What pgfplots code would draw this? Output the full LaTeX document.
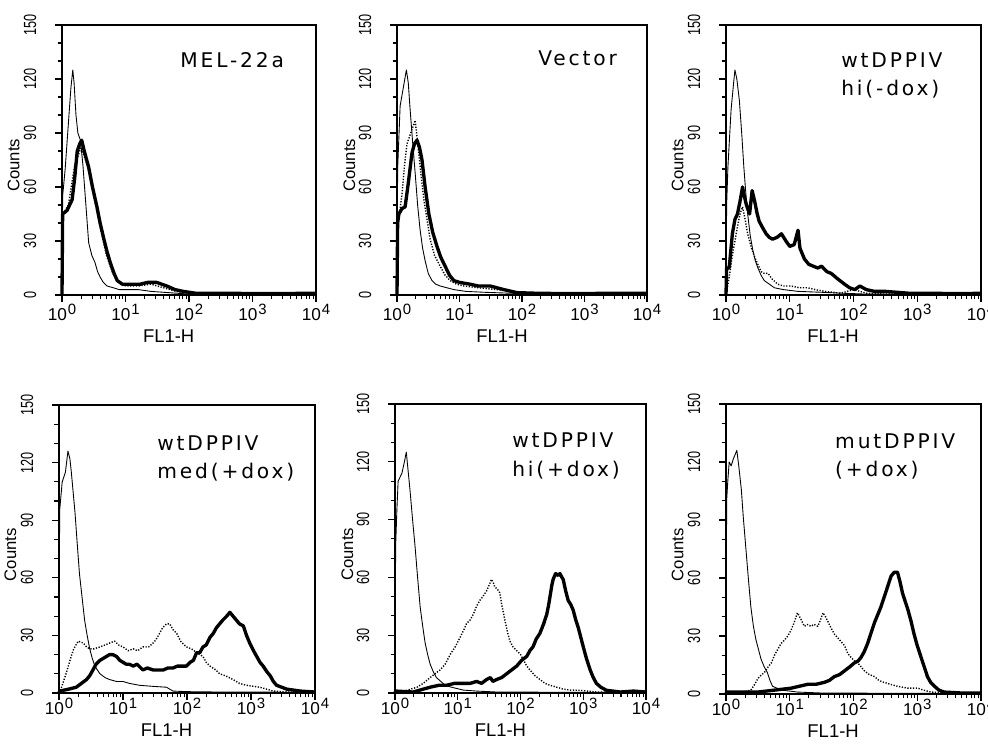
\documentclass[border=0pt]{standalone}
\usepackage{fontspec}
\setmainfont{Liberation Sans}
\newfontfamily\tagfont[LetterSpace=14]{DejaVu Sans}
\usepackage{pgfplots}
\pgfplotsset{compat=1.18}

\newcommand\dec[1]{10\raisebox{0.7ex}{\kern0.5pt\fontsize{8.5}{9}\selectfont#1}}

\pgfplotsset{
  facs/.style={
    scale only axis,
    xmin=0, xmax=4, ymin=0, ymax=150,
    xtick={0,1,2,3,4},
    xticklabels={\dec{0},\dec{1},\dec{2},\dec{3},\dec{4}},
    minor xtick={0.301,0.477,0.602,0.699,0.778,0.845,0.903,0.954,
                 1.301,1.477,1.602,1.699,1.778,1.845,1.903,1.954,
                 2.301,2.477,2.602,2.699,2.778,2.845,2.903,2.954,
                 3.301,3.477,3.602,3.699,3.778,3.845,3.903,3.954},
    ytick={0,30,60,90,120,150},
    minor ytick={10,20,40,50,70,80,100,110,130,140},
    tick align=outside,
    xtick pos=left, ytick pos=left,
    major tick length=1.4mm, minor tick length=0.9mm,
    every tick/.style={black, line width=0.6pt},
    axis line style={line width=0.6pt},
    xticklabel style={font=\fontsize{9.8}{11}\selectfont, inner sep=1pt},
    /pgf/number format/assume math mode=true,
    yticklabel style={font=\fontsize{10}{12}\selectfont, rotate=90, anchor=south,
                      xscale=0.72, yshift=2.5mm},
    xlabel={FL1-H}, ylabel={Counts},
    xlabel style={at={(axis description cs:0.42,0)}, anchor=center, yshift=-8.2mm,
                  font=\fontsize{10.5}{12}\selectfont},
    ylabel style={at={(axis description cs:-0.19,0.48)}, anchor=center,
                  font=\fontsize{9.5}{12}\selectfont},
    clip=false,
  },
  lowrow/.style={xlabel style={yshift=0.7mm}, xticklabel style={yshift=0.8mm}},
  ctl/.style={black, line width=0.5pt, line join=round},
  mid/.style={black, line width=0.8pt, dash pattern=on 0.7pt off 0.9pt, line join=round},
  pos/.style={black, line width=1.9pt, line join=round},
}
\tikzset{
  tag/.style={anchor=north west, align=left, inner sep=0pt,
              font=\tagfont\fontsize{11.5}{16}\selectfont},
  frame/.style={black, line width=1.6pt},
}

\begin{document}
\begin{tikzpicture}[x=1cm,y=1cm]
\useasboundingbox (0,0) rectangle (19.76,14.9);

% ---- top row ----
\begin{axis}[facs, at={(1.24cm,9.0cm)}, anchor=south west, width=5.08cm, height=5.4cm]
\addplot[mid] coordinates {(0,0) (0.02,45) (0.1,50) (0.2,72) (0.3,82) (0.4,72) (0.5,55)
  (0.6,38) (0.7,22) (0.8,12) (0.9,7) (1.0,5) (1.2,5) (1.4,6) (1.6,4) (1.8,2) (2,1) (2.5,0.5) (4,0)};
\addplot[ctl] coordinates {(0,0) (0.01,55) (0.05,70) (0.1,95) (0.14,115) (0.17,125) (0.19,118)
  (0.22,100) (0.25,90) (0.29,86) (0.33,72) (0.37,53) (0.42,29) (0.47,22) (0.52,18) (0.56,13)
  (0.6,10) (0.65,7) (0.71,5) (0.81,4) (0.9,3) (1.0,3) (1.2,3) (1.4,2) (1.6,1.5) (1.8,1)
  (2.0,0.5) (2.5,0.3) (3,0.3) (4,0.2)};
\addplot[pos] coordinates {(0,0) (0.01,45) (0.08,47) (0.16,53) (0.2,65) (0.24,80) (0.28,84)
  (0.31,86) (0.35,80) (0.42,71) (0.48,60) (0.55,49) (0.6,40) (0.66,31) (0.71,24) (0.76,18)
  (0.82,12) (0.87,8) (0.95,6) (1.02,6) (1.1,6) (1.23,6) (1.35,7) (1.49,7) (1.57,6) (1.65,5)
  (1.78,3) (1.91,2) (2.1,1) (2.5,1) (3,0.8) (3.5,0.8) (4,1)};
\draw[frame] (rel axis cs:0,0) -- (rel axis cs:0,1);
\node[tag] at (rel axis cs:0.465,0.9) {MEL-22a};
\end{axis}

\begin{axis}[facs, at={(7.94cm,9.0cm)}, anchor=south west, width=5.0cm, height=5.4cm]
\addplot[mid] coordinates {(0,0) (0.02,40) (0.08,56) (0.12,72) (0.16,84) (0.22,90) (0.29,97)
  (0.33,85) (0.38,68) (0.43,53) (0.48,42) (0.53,31) (0.6,22) (0.69,16) (0.77,11) (0.85,8)
  (0.95,6) (1.07,5) (1.3,4) (1.6,3) (1.8,2) (2.0,1) (2.5,0.5) (4,0.3)};
\addplot[ctl] coordinates {(0,0) (0.01,70) (0.05,105) (0.1,115) (0.15,125) (0.18,118) (0.21,103)
  (0.25,85) (0.29,68) (0.33,50) (0.37,36) (0.41,26) (0.45,19) (0.5,12) (0.56,8) (0.62,6)
  (0.69,5) (0.8,4) (0.91,3) (1.1,2) (1.4,1.5) (1.8,1) (2.2,0.5) (4,0.3)};
\addplot[pos] coordinates {(0,0) (0.01,40) (0.03,45) (0.08,48) (0.13,49) (0.18,62) (0.24,79)
  (0.28,84) (0.32,86) (0.36,82) (0.4,75) (0.45,60) (0.51,45) (0.57,35) (0.64,27) (0.7,21)
  (0.77,16) (0.84,11) (0.91,8) (1.0,7) (1.17,6) (1.3,5) (1.49,5) (1.6,4) (1.71,3) (1.92,1.3)
  (2.2,1) (2.6,0.8) (3,0.8) (3.5,1) (4,1)};
\draw[frame] (rel axis cs:0,0) -- (rel axis cs:0,1);
\node[tag] at (rel axis cs:0.564,0.907) {Vector};
\end{axis}

\begin{axis}[facs, at={(14.52cm,9.0cm)}, anchor=south west, width=5.1cm, height=5.4cm]
\addplot[mid] coordinates {(0,0) (0.05,10) (0.1,22) (0.15,32) (0.18,38) (0.22,45) (0.26,49)
  (0.3,42) (0.34,34) (0.4,26) (0.45,21) (0.5,17) (0.55,13) (0.6,12) (0.66,12) (0.72,9)
  (0.81,6) (0.9,5) (1.02,5) (1.15,4) (1.28,4) (1.4,3) (1.55,2) (1.8,1) (2.0,3) (2.2,1)
  (2.5,0.5) (4,0.3)};
\addplot[ctl] coordinates {(0,0) (0.01,50) (0.03,71) (0.08,103) (0.12,118) (0.14,125) (0.17,120)
  (0.21,108) (0.25,88) (0.28,71) (0.31,57) (0.34,45) (0.38,33) (0.42,25) (0.46,19) (0.5,15)
  (0.55,11) (0.6,8) (0.68,6) (0.76,4) (0.9,3) (1.13,2) (1.5,1.5) (1.81,1) (2.2,0.5) (4,0.3)};
\addplot[pos] coordinates {(0,0) (0.01,15) (0.05,15) (0.1,34) (0.14,42) (0.18,45) (0.22,52)
  (0.26,60) (0.28,56) (0.32,50) (0.37,45) (0.41,58) (0.45,52) (0.49,45) (0.52,41) (0.58,37)
  (0.63,34) (0.68,32) (0.73,31) (0.8,32) (0.87,34) (0.94,30) (1.0,27) (1.07,28) (1.13,36)
  (1.16,26) (1.23,20) (1.3,17) (1.44,15) (1.5,16) (1.58,13) (1.65,12) (1.75,9) (1.86,6)
  (1.94,4) (2.02,3) (2.1,5) (2.2,3) (2.33,2) (2.5,2) (2.86,1) (3.2,1) (3.5,0.8) (3.8,0.8) (4,1)};
\draw[frame] (rel axis cs:0,0) -- (rel axis cs:0,1);
\node[tag] at (rel axis cs:0.451,0.9) {wtDPPIV\\hi(-dox)};
\end{axis}

% ---- bottom row ----
\begin{axis}[facs, lowrow, at={(1.18cm,1.04cm)}, anchor=south west, width=5.12cm, height=5.76cm]
\addplot[mid] coordinates {(0,0) (0.04,3) (0.11,10) (0.19,19) (0.23,23) (0.3,27) (0.38,26)
  (0.43,24) (0.48,23) (0.55,23) (0.64,24) (0.72,25) (0.79,26) (0.87,27) (0.93,25) (1.0,24)
  (1.08,22) (1.16,23) (1.23,22) (1.31,24) (1.4,24) (1.47,26) (1.52,28) (1.57,31) (1.62,34)
  (1.68,36) (1.73,36) (1.78,33) (1.84,31) (1.9,27) (1.99,24) (2.07,23) (2.15,21) (2.25,19)
  (2.3,16) (2.36,14) (2.45,12) (2.51,10) (2.6,9) (2.72,7) (2.82,5) (2.93,4) (3.14,3)
  (3.35,1) (3.6,0.5) (4,0.3)};
\addplot[ctl] coordinates {(0,0) (0.01,95) (0.05,110) (0.1,115) (0.14,126) (0.17,122) (0.19,116)
  (0.22,105) (0.25,94) (0.28,80) (0.32,62) (0.36,50) (0.4,38) (0.44,30) (0.48,23) (0.52,18)
  (0.56,14) (0.6,12) (0.64,10) (0.72,8) (0.79,7) (0.9,6) (1.0,6) (1.1,5) (1.26,4) (1.45,3.5)
  (1.68,3) (1.78,1) (2.0,0.7) (2.5,0.5) (3,0.5) (4,0.3)};
\addplot[pos] coordinates {(0,0) (0.01,1) (0.15,2) (0.27,3) (0.35,5) (0.43,7) (0.48,9) (0.53,12)
  (0.58,15) (0.64,17) (0.69,18) (0.74,19) (0.79,20) (0.84,20) (0.9,19) (0.95,17) (1.0,16)
  (1.05,15) (1.1,15) (1.16,14) (1.22,15) (1.31,12) (1.38,13) (1.47,12) (1.55,12) (1.63,12)
  (1.7,13) (1.78,13) (1.85,14) (1.92,14) (1.99,14) (2.05,16) (2.1,17) (2.15,21) (2.2,21)
  (2.25,24) (2.3,25) (2.36,29) (2.41,31) (2.46,34) (2.51,36) (2.56,38) (2.62,40) (2.67,42)
  (2.72,40) (2.77,38) (2.82,36) (2.88,35) (2.93,30) (2.98,26) (3.04,22) (3.09,19) (3.14,16)
  (3.19,14) (3.25,11) (3.3,9) (3.35,6) (3.4,4) (3.48,3) (3.56,2) (3.77,1) (4,0.5)};
\draw[frame] (rel axis cs:0,0) -- (rel axis cs:0,1);
\node[tag] at (rel axis cs:0.383,0.896) {wtDPPIV\\med(+dox)};
\end{axis}

\begin{axis}[facs, lowrow, at={(7.9cm,1.04cm)}, anchor=south west, width=5.02cm, height=5.78cm]
\addplot[mid] coordinates {(0,0) (0.1,0.5) (0.35,3) (0.45,5) (0.56,8) (0.64,10) (0.72,12)
  (0.8,15) (0.88,20) (0.96,24) (1.04,29) (1.1,33) (1.14,36) (1.2,38) (1.25,41) (1.3,45)
  (1.35,48) (1.4,50) (1.46,53) (1.5,56) (1.54,59) (1.57,57) (1.59,55) (1.63,54) (1.67,52)
  (1.7,46) (1.75,38) (1.79,32) (1.83,27) (1.88,24) (1.94,22) (2.0,20) (2.05,17) (2.1,14)
  (2.15,12) (2.23,9) (2.31,7) (2.39,5) (2.47,4) (2.58,3) (2.68,2) (2.8,1.5) (2.95,1.4)
  (3.21,0.5) (4,0.3)};
\addplot[ctl] coordinates {(0,0) (0.01,76) (0.03,95) (0.05,110) (0.11,114) (0.15,120) (0.18,125)
  (0.21,115) (0.24,105) (0.28,90) (0.32,76) (0.36,60) (0.4,45) (0.44,35) (0.48,26) (0.52,20)
  (0.56,15) (0.61,11) (0.66,8) (0.73,6) (0.8,4) (0.9,3) (1.09,1.5) (1.3,1) (1.62,0.5) (4,0.2)};
\addplot[pos] coordinates {(0,0) (0.01,1) (0.29,0.5) (0.45,2) (0.56,3) (0.7,4) (0.82,4) (0.95,5)
  (1.09,5) (1.2,5) (1.3,6) (1.38,5) (1.46,7) (1.52,8) (1.56,6) (1.62,7) (1.7,8) (1.78,10)
  (1.86,12) (1.94,14) (2.02,17) (2.1,19) (2.15,22) (2.2,24) (2.25,28) (2.31,31) (2.37,36)
  (2.42,41) (2.45,46) (2.47,50) (2.5,56) (2.52,59) (2.56,62) (2.6,61) (2.63,62) (2.66,60)
  (2.68,59) (2.72,53) (2.76,48) (2.8,46) (2.84,43) (2.88,38) (2.92,34) (2.96,29) (3.0,24)
  (3.05,18) (3.11,12) (3.16,8) (3.21,5) (3.28,3) (3.37,1.4) (3.59,0.5) (3.8,1) (4,0.5)};
\draw[frame] (rel axis cs:0,0) -- (rel axis cs:0,1);
\node[tag] at (rel axis cs:0.466,0.9) {wtDPPIV\\hi(+dox)};
\end{axis}

\begin{axis}[facs, lowrow, at={(14.52cm,1.02cm)}, anchor=south west, width=5.1cm, height=5.8cm]
\addplot[mid] coordinates {(0,0) (0.2,0.5) (0.39,2) (0.45,5) (0.5,8) (0.56,10) (0.6,11) (0.66,14)
  (0.71,16) (0.76,20) (0.81,23) (0.86,26) (0.92,28) (0.97,30) (1.02,33) (1.07,37) (1.12,42)
  (1.17,39) (1.23,35) (1.28,36) (1.33,35) (1.38,36) (1.44,35) (1.49,39) (1.52,42) (1.56,40)
  (1.59,38) (1.65,34) (1.7,31) (1.78,28) (1.86,25) (1.91,21) (1.96,19) (2.02,17) (2.07,16)
  (2.12,14) (2.17,12) (2.25,10) (2.33,9) (2.4,7) (2.48,6) (2.58,5) (2.69,4) (2.85,3)
  (3.01,3) (3.1,2) (3.22,1) (3.5,0.5) (4,0.3)};
\addplot[ctl] coordinates {(0,0) (0.01,100) (0.03,111) (0.05,120) (0.08,118) (0.12,122) (0.17,126)
  (0.2,118) (0.24,106) (0.27,92) (0.31,76) (0.35,60) (0.39,45) (0.43,35) (0.47,28) (0.51,23)
  (0.55,18) (0.6,14) (0.65,11) (0.69,7) (0.73,4) (0.8,3) (0.86,2) (1.0,1.5) (1.12,1)
  (1.5,0.5) (4,0.2)};
\addplot[pos] coordinates {(0,0) (0.01,1) (0.3,1) (0.5,1) (0.76,2) (1.02,3) (1.15,4) (1.28,5)
  (1.41,5) (1.54,6) (1.62,7) (1.7,9) (1.78,10) (1.86,12) (1.94,14) (2.01,16) (2.07,17)
  (2.12,19) (2.17,22) (2.22,26) (2.27,31) (2.33,37) (2.38,41) (2.43,45) (2.48,50) (2.54,56)
  (2.59,61) (2.64,63) (2.69,63) (2.73,58) (2.77,52) (2.81,48) (2.85,44) (2.9,38) (2.95,31)
  (3.0,25) (3.06,19) (3.11,14) (3.16,9) (3.21,6) (3.27,4) (3.34,2) (3.42,1) (3.7,0.5) (4,0.5)};
\draw[frame] (rel axis cs:0,0) -- (rel axis cs:0,1);
\node[tag] at (rel axis cs:0.427,0.9) {mutDPPIV\\(+dox)};
\end{axis}
\end{tikzpicture}
\end{document}
